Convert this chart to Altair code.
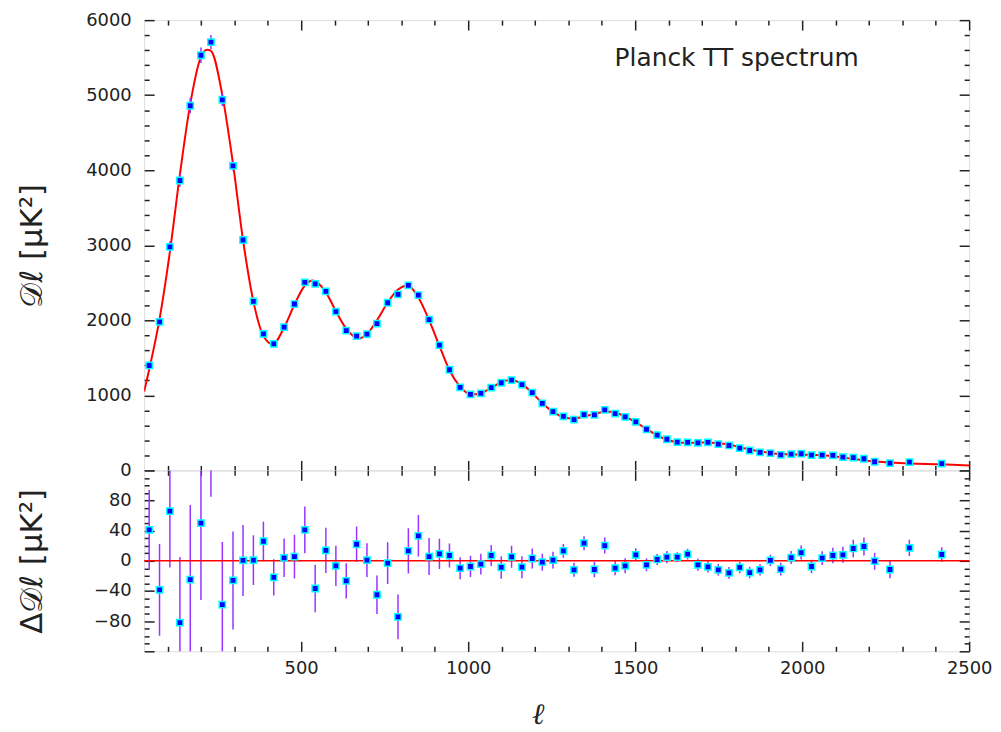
import altair as alt
import pandas as pd

# ---- binned Planck TT points ----
ell = [45, 76, 107, 137, 168, 200, 230, 264, 296, 326,
       357, 387, 418, 449, 480, 511, 542, 574, 604, 635,
       666, 697, 727, 759, 790, 821, 851, 883, 914, 944,
       976, 1007, 1038, 1069, 1099, 1130, 1161, 1192, 1222, 1254,
       1285, 1317, 1347, 1378, 1409, 1440, 1470, 1502, 1534, 1566,
       1595, 1626, 1657, 1688, 1718, 1749, 1781, 1813, 1843, 1874,
       1905, 1936, 1967, 1997, 2028, 2060, 2092, 2122, 2153, 2185,
       2217, 2263, 2321, 2418]
dl = [1398, 1978, 2978, 3863, 4859, 5532, 5708, 4938, 4058, 3070,
      2253, 1819, 1686, 1908, 2217, 2505, 2486, 2386, 2115, 1862,
      1788, 1815, 1955, 2234, 2346, 2465, 2336, 2008, 1669, 1341,
      1106, 1013, 1026, 1102, 1168, 1204, 1142, 1035, 893, 783,
      721, 677, 743, 739, 806, 757, 713, 647, 548, 469,
      415, 376, 372, 368, 372, 349, 332, 296, 265, 239,
      230, 208, 216, 222, 203, 203, 199, 177, 169, 155,
      115, 97, 110, 89]
residual = [41, -38.5, 66, -82, -25, 50, 180, -58, -26, 0.5,
            1, 26, -22, 4, 5.7, 41, -36.7, 14, -6.6, -26.5,
            22, 1, -45, -3, -74.3, 13.3, 33.2, 5.7, 9.3, 7.1,
            -9.7, -7.5, -4.4, 7.1, -8.8, 5.3, -8.4, 3.1, -1.8, 0.9,
            13.3, -11.9, 23.4, -11.5, 20.3, -9.7, -6.6, 8, -5.3, 1.8,
            4.9, 4.9, 8.8, -5.3, -8, -11.9, -15.9, -8.8, -15.5, -11.9,
            0.5, -11, 4.4, 11, -7.5, 3.5, 7.1, 8, 16.4, 19,
            -0.5, -11.5, 17.2, 8.4]
error = [53, 61, 75, 87, 99, 102, 95, 83, 65, 47,
         33, 26, 24, 25.5, 29, 31, 31.6, 30, 26.7, 23.4,
         23.4, 22.5, 25.4, 27.8, 29.6, 30, 27.6, 24.5, 20.1, 15.9,
         14.6, 14.1, 13.7, 13.9, 14.8, 14.6, 14.6, 13.3, 11.3, 11,
         9.1, 9.3, 9.3, 10.4, 10.6, 9.5, 9.9, 8.8, 8.6, 7.3,
         8.0, 6.6, 7.1, 8.0, 7.5, 7.7, 7.7, 7.5, 7.5, 7.5,
         7.5, 8.6, 8.6, 9.3, 8.8, 9.1, 10.2, 10.6, 11.5, 11.9,
         11.3, 11.5, 10.8, 9.7]

# ---- best-fit model curve ----
curve_ell = [30, 45, 76, 107, 137, 168, 200, 218, 230, 264, 296, 326, 357, 387,
             415, 449, 480, 511, 535, 574, 604, 635, 672, 697, 727, 759, 790,
             820, 851, 883, 914, 944, 976, 1008, 1038, 1069, 1099, 1129, 1161,
             1192, 1222, 1254, 1285, 1318, 1347, 1378, 1412, 1440, 1470, 1502,
             1534, 1566, 1595, 1626, 1657, 1688, 1718, 1749, 1781, 1813, 1843,
             1874, 1905, 1936, 1967, 1997, 2028, 2060, 2092, 2122, 2153, 2185,
             2217, 2262, 2322, 2417, 2500]
curve_dl = [1050, 1345, 2016, 2912, 3945, 4884, 5510, 5605, 5590, 5000, 4084, 3070,
            2252, 1793, 1680, 1904, 2211, 2464, 2530, 2372, 2122, 1888, 1758,
            1814, 2000, 2237, 2410, 2465, 2303, 2002, 1660, 1334, 1116, 1010,
            1030, 1095, 1177, 1204, 1150, 1032, 895, 782, 708, 690, 720, 750,
            785, 767, 720, 639, 553, 467, 408, 376, 366, 370, 372, 361, 345,
            308, 280, 252, 232, 218, 212, 210, 207, 200, 190, 170, 152, 135,
            118, 106, 93, 81, 64]

x_tick_values = list(range(100, 2501, 100))
x_label_values = [500, 1000, 1500, 2000, 2500]
top_tick_values = list(range(0, 6001, 200))
top_label_values = list(range(0, 6001, 1000))
bot_tick_values = list(range(-120, 121, 10))
bot_label_values = [-80, -40, 0, 40, 80]

W, H1, H2 = 830, 453, 182
FRAME = "#222222"
LABEL_FONT = "DejaVu Sans"

pts = pd.DataFrame({"ell": ell, "dl": dl, "res": residual, "err": error})
crv = pd.DataFrame({"ell": curve_ell, "dl": curve_dl})
zero = pd.DataFrame({"r": [0]})
note = pd.DataFrame({"t": ["Planck TT spectrum"]})

xscale = alt.Scale(domain=[30, 2500], nice=False, zero=False)
ytop = alt.Scale(domain=[0, 6000], nice=False)
ybot = alt.Scale(domain=[-120, 120], nice=False)


def tsize(major):
    return {"condition": {"test": f"datum.value % {major} === 0", "value": 10}, "value": 5}


def tick_axis(orient, offset, values, major):
    return alt.Axis(orient=orient, offset=offset, values=values, labels=False,
                    domain=False, grid=False, ticks=True, tickSize=tsize(major),
                    tickColor=FRAME, tickWidth=1.5, title=None)


def tick_layers(df, yfield, yscale, H, yvals, ymajor):
    a = alt.Chart(df).mark_point(opacity=0, clip=True).encode(
        x=alt.X("ell:Q", scale=xscale, axis=tick_axis("top", -H, x_tick_values, 500)),
        y=alt.Y(f"{yfield}:Q", scale=yscale, axis=tick_axis("right", -W, yvals, ymajor)))
    b = alt.Chart(df).mark_point(opacity=0, clip=True).encode(
        x=alt.X("ell:Q", scale=xscale, axis=tick_axis("bottom", -H, x_tick_values, 500)),
        y=alt.Y(f"{yfield}:Q", scale=yscale, axis=tick_axis("left", -W, yvals, ymajor)))
    return [a, b]


# ---------------- top panel ----------------
top_x_axis = alt.Axis(orient="bottom", labels=False, ticks=False, domain=False,
                      grid=False, title=None)
top_y_axis = alt.Axis(orient="left", values=top_label_values, format="d", ticks=False,
                      domain=False, grid=False, labelPadding=13, labelFontSize=18,
                      labelFont=LABEL_FONT, labelColor=FRAME, title="𝒟ℓ\u00a0[μK²]",
                      titleFont=LABEL_FONT, titleFontSize=31, titleFontWeight="normal",
                      titleColor=FRAME, titleX=-112, titleY=H1 / 2,
                      titleBaseline="middle", titleAlign="center")

curve = alt.Chart(crv).mark_line(color="#ff0000", strokeWidth=2, interpolate="monotone",
                                 clip=True).encode(
    x=alt.X("ell:Q", scale=xscale, axis=top_x_axis),
    y=alt.Y("dl:Q", scale=ytop, axis=top_y_axis))

ebar_top = alt.Chart(pts).transform_calculate(
    lo="datum.dl - datum.err", hi="datum.dl + datum.err"
).mark_rule(color="#9933ff", strokeWidth=1.5, clip=True).encode(
    x=alt.X("ell:Q", scale=xscale, axis=None),
    y=alt.Y("lo:Q", scale=ytop, axis=None), y2="hi:Q")

pts_top = alt.Chart(pts).mark_square(size=40, fill="#0000ff", stroke="#00ffff",
                                     strokeWidth=1.5, opacity=1, clip=True).encode(
    x=alt.X("ell:Q", scale=xscale, axis=None),
    y=alt.Y("dl:Q", scale=ytop, axis=None))

label = alt.Chart(note).mark_text(font=LABEL_FONT, fontSize=25, color=FRAME,
                                  align="center", baseline="middle").encode(
    x=alt.value(596), y=alt.value(38), text="t:N")

top = alt.layer(curve, ebar_top, pts_top, label,
                *tick_layers(pts, "dl", ytop, H1, top_tick_values, 1000)
                ).properties(width=W, height=H1)

# ---------------- residual panel ----------------
bot_x_axis = alt.Axis(orient="bottom", values=x_label_values, format="d", ticks=False,
                      domain=False, grid=False, labelPadding=8, labelFontSize=18,
                      labelFlush=False, labelFont=LABEL_FONT, labelColor=FRAME,
                      title="ℓ", titleFont="DejaVu Serif", titleFontStyle="italic",
                      titleFontWeight="normal", titleFontSize=30, titleColor=FRAME,
                      titleX=396, titleY=64, titleBaseline="middle")
bot_y_axis = alt.Axis(orient="left", values=bot_label_values, format="d", ticks=False,
                      domain=False, grid=False, labelPadding=13, labelFontSize=18,
                      labelFont=LABEL_FONT, labelColor=FRAME, title="Δ𝒟ℓ\u00a0[μK²]",
                      titleFont=LABEL_FONT, titleFontSize=31, titleFontWeight="normal",
                      titleColor=FRAME, titleX=-112, titleY=H2 / 2,
                      titleBaseline="middle", titleAlign="center")

zero_line = alt.Chart(zero).mark_rule(color="#ff0000", strokeWidth=1.5).encode(
    y=alt.Y("r:Q", scale=ybot, axis=None))

ebar_bot = alt.Chart(pts).transform_calculate(
    lo="datum.res - datum.err", hi="datum.res + datum.err"
).mark_rule(color="#9933ff", strokeWidth=1.5, clip=True).encode(
    x=alt.X("ell:Q", scale=xscale, axis=bot_x_axis),
    y=alt.Y("lo:Q", scale=ybot, axis=bot_y_axis), y2="hi:Q")

pts_bot = alt.Chart(pts).mark_square(size=40, fill="#0000ff", stroke="#00ffff",
                                     strokeWidth=1.5, opacity=1, clip=True).encode(
    x=alt.X("ell:Q", scale=xscale, axis=None),
    y=alt.Y("res:Q", scale=ybot, axis=None))

bottom = alt.layer(ebar_bot, zero_line, pts_bot,
                   *tick_layers(pts, "res", ybot, H2, bot_tick_values, 40)
                   ).properties(width=W, height=H2)

chart = alt.vconcat(top, bottom, spacing=0, bounds="flush").properties(
    padding={"left": 8, "top": 0, "right": 0, "bottom": 0}
).configure_view(stroke=FRAME, strokeWidth=1.5).configure(background="white")

chart.save("out.html", embed_options={"renderer": "svg", "actions": False})
